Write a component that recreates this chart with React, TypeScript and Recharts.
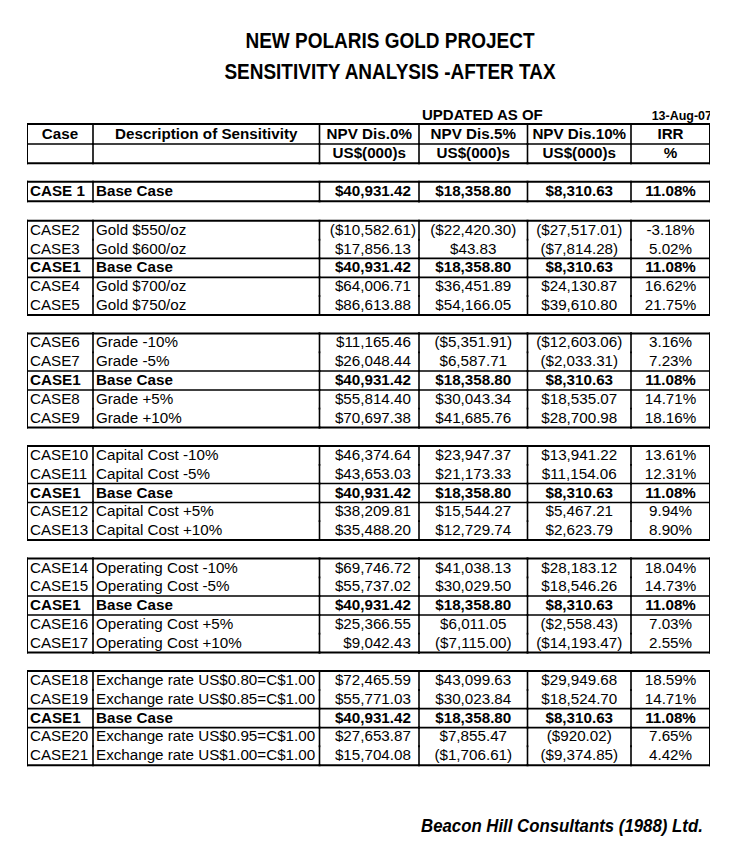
import React from 'react';
import { BarChart, Bar, XAxis, YAxis } from 'recharts';

const FONT = '"Liberation Sans", Arial, Helvetica, sans-serif';

// ---- data ----
const titleLines = ['NEW POLARIS GOLD PROJECT', 'SENSITIVITY ANALYSIS -AFTER TAX'];
const updatedLabel = 'UPDATED AS OF';
const updatedDate = '13-Aug-07';
const footerText = 'Beacon Hill Consultants (1988) Ltd.';

const headerLabels = ['Case', 'Description of Sensitivity', 'NPV Dis.0%', 'NPV Dis.5%', 'NPV Dis.10%', 'IRR'];
const unitLabels = ['', '', 'US$(000)s', 'US$(000)s', 'US$(000)s', '%'];

const caseGroups = [
  ['CASE 1'],
  ['CASE2', 'CASE3', 'CASE1', 'CASE4', 'CASE5'],
  ['CASE6', 'CASE7', 'CASE1', 'CASE8', 'CASE9'],
  ['CASE10', 'CASE11', 'CASE1', 'CASE12', 'CASE13'],
  ['CASE14', 'CASE15', 'CASE1', 'CASE16', 'CASE17'],
  ['CASE18', 'CASE19', 'CASE1', 'CASE20', 'CASE21'],
];

const descGroups = [
  ['Base Case'],
  ['Gold $550/oz', 'Gold $600/oz', 'Base Case', 'Gold $700/oz', 'Gold $750/oz'],
  ['Grade -10%', 'Grade -5%', 'Base Case', 'Grade +5%', 'Grade +10%'],
  ['Capital Cost -10%', 'Capital Cost -5%', 'Base Case', 'Capital Cost +5%', 'Capital Cost +10%'],
  ['Operating Cost -10%', 'Operating Cost -5%', 'Base Case', 'Operating Cost +5%', 'Operating Cost +10%'],
  [
    'Exchange rate US$0.80=C$1.00',
    'Exchange rate US$0.85=C$1.00',
    'Base Case',
    'Exchange rate US$0.95=C$1.00',
    'Exchange rate US$1.00=C$1.00',
  ],
];

const npv0Groups = [
  [40931.42],
  [-10582.61, 17856.13, 40931.42, 64006.71, 86613.88],
  [11165.46, 26048.44, 40931.42, 55814.4, 70697.38],
  [46374.64, 43653.03, 40931.42, 38209.81, 35488.2],
  [69746.72, 55737.02, 40931.42, 25366.55, 9042.43],
  [72465.59, 55771.03, 40931.42, 27653.87, 15704.08],
];

const npv5Groups = [
  [18358.8],
  [-22420.3, 43.83, 18358.8, 36451.89, 54166.05],
  [-5351.91, 6587.71, 18358.8, 30043.34, 41685.76],
  [23947.37, 21173.33, 18358.8, 15544.27, 12729.74],
  [41038.13, 30029.5, 18358.8, 6011.05, -7115.0],
  [43099.63, 30023.84, 18358.8, 7855.47, -1706.61],
];

const npv10Groups = [
  [8310.63],
  [-27517.01, -7814.28, 8310.63, 24130.87, 39610.8],
  [-12603.06, -2033.31, 8310.63, 18535.07, 28700.98],
  [13941.22, 11154.06, 8310.63, 5467.21, 2623.79],
  [28183.12, 18546.26, 8310.63, -2558.43, -14193.47],
  [29949.68, 18524.7, 8310.63, -920.02, -9374.85],
];

const irrGroups = [
  [11.08],
  [-3.18, 5.02, 11.08, 16.62, 21.75],
  [3.16, 7.23, 11.08, 14.71, 18.16],
  [13.61, 12.31, 11.08, 9.94, 8.9],
  [18.04, 14.73, 11.08, 7.03, 2.55],
  [18.59, 14.71, 11.08, 7.65, 4.42],
];

// ---- layout ----
const COL_W = [66, 226.5, 99.5, 108.5, 103.5, 79];
const TABLE_W = COL_W.reduce((a, b) => a + b, 0);
const FS = 15.2;
const SY = 1.02;
const OUTER = 2;
const INNER = 1.6;

const money = (v: number) => {
  const s = Math.abs(v).toLocaleString('en-US', { minimumFractionDigits: 2, maximumFractionDigits: 2 });
  return v < 0 ? `($${s})` : `$${s}`;
};
const pct = (v: number) => `${v.toFixed(2)}%`;

type Row = {
  key: string;
  kind: 'note' | 'head' | 'unit' | 'gap' | 'data';
  cells: string[];
  neg?: boolean;
  bold?: boolean;
  top?: number;
  bottom?: number;
  dTop?: number;
  dBot?: number;
  [k: string]: any;
};

const rows: Row[] = [];
rows.push({ key: 'note', kind: 'note', cells: ['', '', '', updatedLabel, '', updatedDate] });
rows.push({ key: 'head', kind: 'head', cells: headerLabels, bold: true, top: OUTER, bottom: INNER, dTop: -3, dBot: -2 });
rows.push({ key: 'unit', kind: 'unit', cells: unitLabels, bold: true, bottom: OUTER, dTop: -2, dBot: -1.5 });
caseGroups.forEach((cases, g) => {
  rows.push({ key: `gap${g}`, kind: 'gap', cells: [] });
  cases.forEach((c, i) => {
    const base = descGroups[g][i] === 'Base Case';
    const last = i === cases.length - 1;
    rows.push({
      key: `g${g}r${i}`,
      kind: 'data',
      cells: [c, descGroups[g][i], money(npv0Groups[g][i]), money(npv5Groups[g][i]), money(npv10Groups[g][i]), pct(irrGroups[g][i])],
      neg: npv0Groups[g][i] < 0,
      bold: base,
      top: i === 0 ? OUTER : base ? INNER : undefined,
      bottom: last ? OUTER : base ? INNER : undefined,
      dTop: g === 0 ? -1.5 : 0,
      dBot: g === 0 ? -1 : 0,
    });
  });
});
rows.forEach((r) => COL_W.forEach((w, i) => (r[`w${i}`] = w)));

function Txt({ x, y, anchor, bold, size, children }: any) {
  return (
    <text
      transform={`translate(${x},${y}) scale(1,${SY})`}
      textAnchor={anchor}
      fontFamily={FONT}
      fontSize={size || FS}
      fontWeight={bold ? 'bold' : 'normal'}
      fill="#000"
    >
      {children}
    </text>
  );
}

function cellShape(col: number) {
  return (props: any) => {
    const { x, y, width, height, payload } = props;
    const r: Row = payload;
    if (!r || r.kind === 'gap') return <g />;
    const txt = r.cells[col] || '';
    if (r.kind === 'note') {
      const b = y + height * 0.62;
      if (!txt) return <g />;
      return col === 5 ? (
        <Txt x={x + width + 2} y={b} anchor="end" bold size={12.5}>{txt}</Txt>
      ) : (
        <Txt x={x + 3} y={b} anchor="start" bold size={15}>{txt}</Txt>
      );
    }
    const y0 = y + (r.dTop || 0);
    const y1 = y + height + (r.dBot || 0);
    const base = y0 + (y1 - y0) * 0.74;
    let tx = x + width / 2;
    let anchor = 'middle';
    if (r.kind === 'data') {
      if (col < 2) {
        tx = x + 3;
        anchor = 'start';
      } else if (col === 2) {
        tx = x + width - 3 - (r.neg ? 0 : FS * 0.333);
        anchor = 'end';
      }
    }
    return (
      <g>
        <line x1={x} x2={x} y1={y0} y2={y1} stroke="#000" strokeWidth={col === 0 ? OUTER : INNER} strokeLinecap="square" />
        {col === 5 && (
          <line x1={x + width} x2={x + width} y1={y0} y2={y1} stroke="#000" strokeWidth={OUTER} strokeLinecap="square" />
        )}
        {r.top && <line x1={x} x2={x + width} y1={y0} y2={y0} stroke="#000" strokeWidth={r.top} strokeLinecap="square" />}
        {r.bottom && (
          <line x1={x} x2={x + width} y1={y1} y2={y1} stroke="#000" strokeWidth={r.bottom} strokeLinecap="square" />
        )}
        {txt && (
          <Txt x={tx} y={base} anchor={anchor} bold={r.bold}>
            {txt}
          </Txt>
        )}
      </g>
    );
  };
}

export default function App() {
  return (
    <div style={{ position: 'absolute', left: 0, top: 0, width: 738, height: 845, background: '#fff' }}>
      <BarChart
        width={738}
        height={845}
        data={rows}
        layout="vertical"
        barCategoryGap={0}
        margin={{ top: 108.3, bottom: 80.1, left: 27, right: 738 - 27 - TABLE_W }}
      >
        <XAxis type="number" domain={[0, TABLE_W]} hide allowDataOverflow />
        <YAxis type="category" dataKey="key" hide />
        {COL_W.map((_, i) => (
          <Bar key={i} dataKey={`w${i}`} stackId="t" isAnimationActive={false} shape={cellShape(i)} />
        ))}
      </BarChart>
      <svg width={738} height={845} style={{ position: 'absolute', left: 0, top: 0, pointerEvents: 'none' }}>
        <text transform="translate(390,48) scale(1,1.2)" textAnchor="middle" fontFamily={FONT} fontSize={19} fontWeight="bold">
          {titleLines[0]}
        </text>
        <text transform="translate(390,79) scale(1,1.2)" textAnchor="middle" fontFamily={FONT} fontSize={19} fontWeight="bold">
          {titleLines[1]}
        </text>
        <text transform="translate(421,832) scale(1,1.05)" fontFamily={FONT} fontSize={16.8} fontWeight="bold" fontStyle="italic">
          {footerText}
        </text>
      </svg>
    </div>
  );
}
